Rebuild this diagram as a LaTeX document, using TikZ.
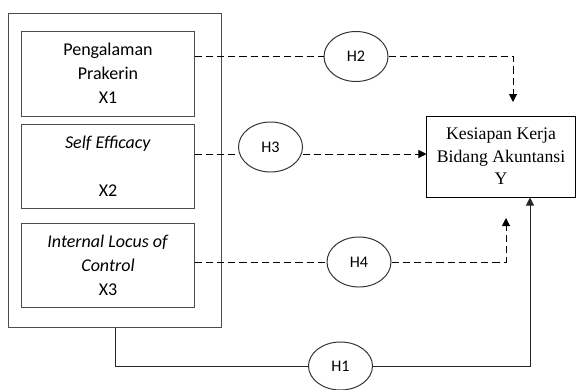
\documentclass[tikz,border=0pt]{standalone}
\usepackage{fontspec}
\setmainfont{Carlito}
\newfontfamily\timesfont{Liberation Serif}
\usetikzlibrary{positioning,arrows.meta,shapes.geometric}

\begin{document}
\begin{tikzpicture}[
		x=0.025cm,y=-0.025cm,
		varbox/.style={
				draw=black!70,
				line width=0.7pt,
				align=center,
				minimum width=4.3cm,
				minimum height=2.1cm,
				font=\fontsize{12.8}{17}\selectfont
			},
		hyp/.style={
				ellipse,
				draw=black!80,
				line width=0.7pt,
				inner sep=0pt,
				minimum width=1.6cm,
				minimum height=1.25cm,
				font=\fontsize{11.5}{13}\selectfont
			},
		link/.style={line width=0.7pt, draw=black!85},
		dashlink/.style={link, draw=black, dash pattern=on 0.18cm off 0.1cm},
		>={Triangle[length=0.2cm,width=0.2cm]}
	]

	\useasboundingbox (0,0) rectangle (576,389);

	% independent variables
	\node (grp) [draw=black!70, line width=0.7pt,
		minimum width=5.3cm, minimum height=7.825cm] at (115,170.5) {};

	\node (x1) [varbox, minimum height=2.125cm] at (108,73.5)
	{Pengalaman\\Prakerin\\X1};
	\node (x2) [varbox] at (108,166)
	{\textit{Self Efficacy}\\\mbox{}\\X2};
	\node (x3) [varbox] at (108,265)
	{\textit{Internal Locus of}\\\textit{Control}\\X3};

	% dependent variable
	\node (y) [draw, line width=0.7pt, align=center,
		minimum width=3.7cm, minimum height=2.025cm,
		font=\timesfont\fontsize{12.6}{16}\selectfont] at (501,156.5)
	{Kesiapan Kerja\\Bidang Akuntansi\\Y};

	% hypotheses
	\node (h2) [hyp] at (356,56.5) {H2};
	\node (h3) [hyp] at (270.5,147) {H3};
	\node (h4) [hyp] at (359,262) {H4};
	\node (h1) [hyp, minimum height=1.2cm] at (340.5,366) {H1};

	\coordinate (h2end) at (513,102);
	\coordinate (h4end) at (506,218);
	\coordinate (x2out) at ([yshift=0.3cm]x2.east);

	\draw[dashlink] (x1.east |- h2) -- (h2.west);
	\draw[dashlink,->] (h2.east) -| (h2end);

	\draw[dashlink] (x2out) -- (x2out -| h3.west);
	\draw[dashlink,->] (x2out -| h3.east) -- (x2out -| y.west);

	\draw[dashlink] (x3.east |- h4) -- (h4.west);
	\draw[dashlink,->] (h4.east) -| (h4end);

	\draw[link] (grp.south) |- (h1.west);
	\draw[link,->] (h1.east) -| ([xshift=0.725cm]y.south);

\end{tikzpicture}
\end{document}
